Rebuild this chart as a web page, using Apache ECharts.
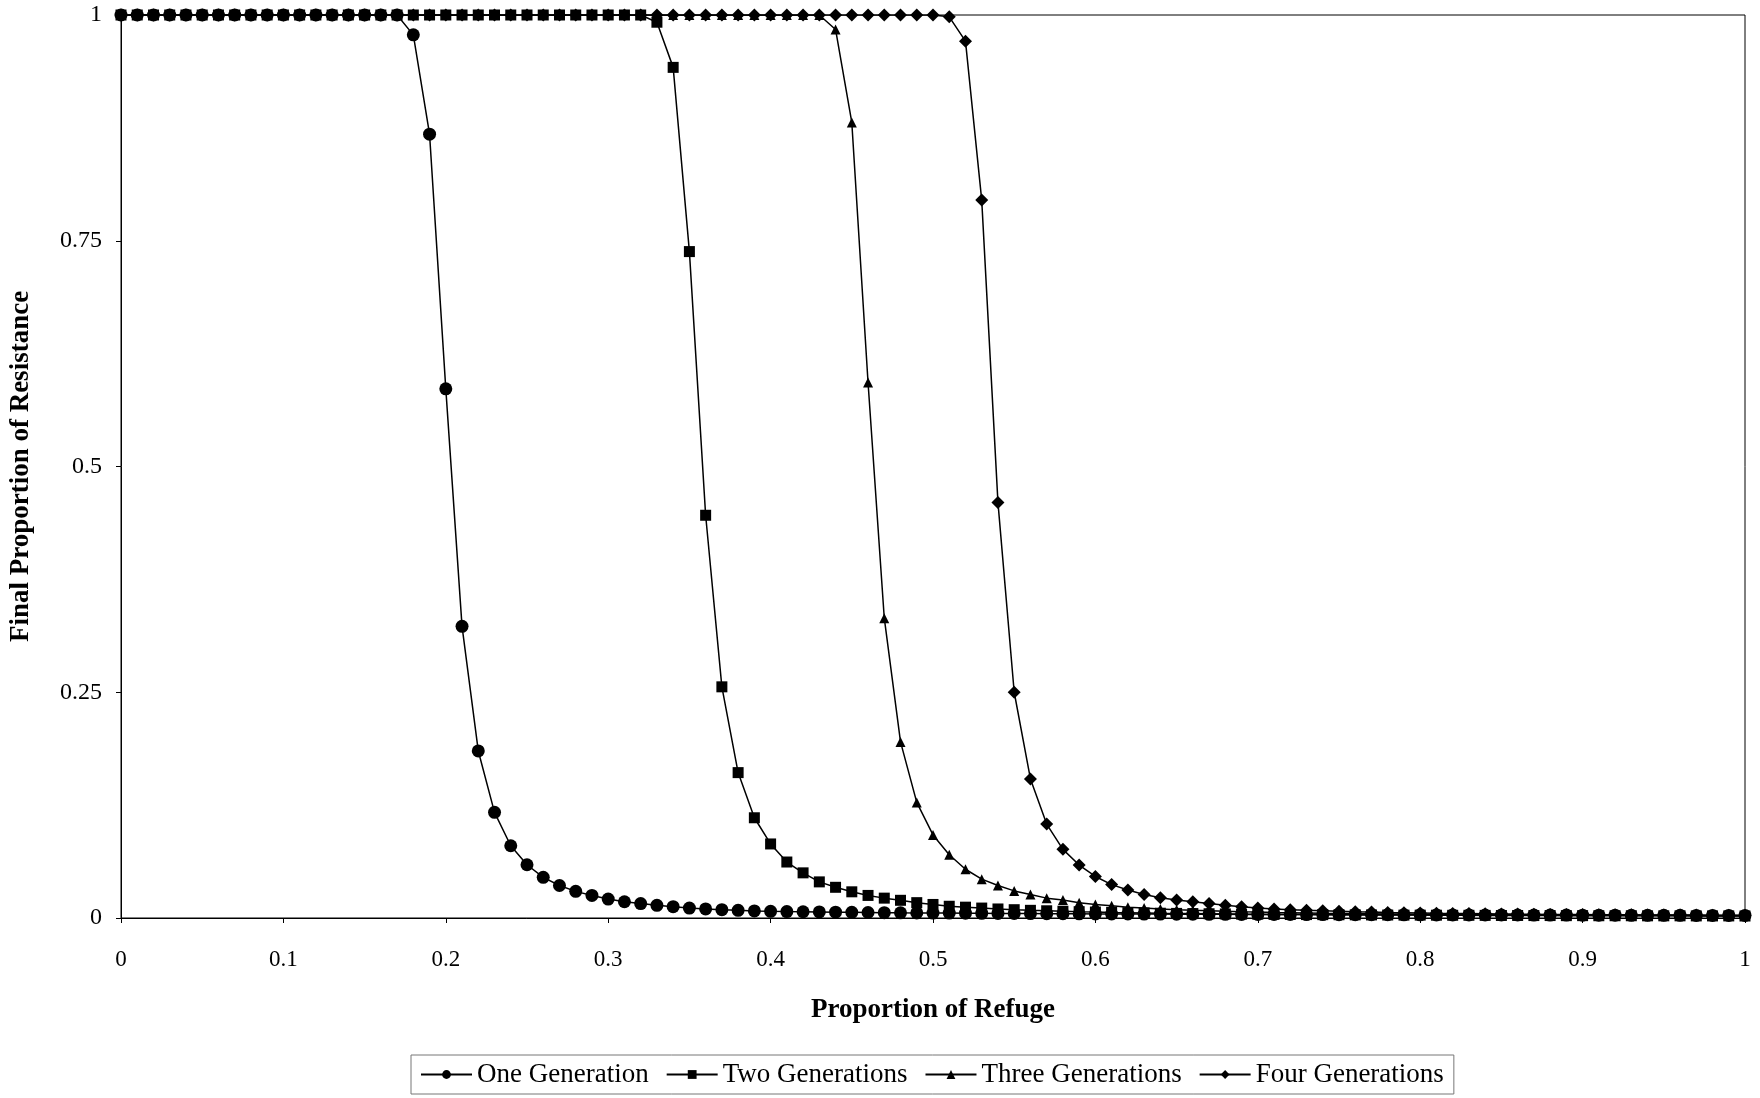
<!DOCTYPE html>
<html>
<head>
<meta charset="utf-8">
<script src="https://cdn.jsdelivr.net/npm/echarts@6/dist/echarts.min.js"></script>
<style>
html,body{margin:0;padding:0;background:#fff;}
#chart{width:1760px;height:1098px;}
</style>
</head>
<body>
<div id="chart"></div>
<script>
// Proportion of refuge (x), 0 to 1 in steps of 0.01
const refuge = [
0.00,0.01,0.02,0.03,0.04,0.05,0.06,0.07,0.08,0.09,
0.10,0.11,0.12,0.13,0.14,0.15,0.16,0.17,0.18,0.19,
0.20,0.21,0.22,0.23,0.24,0.25,0.26,0.27,0.28,0.29,
0.30,0.31,0.32,0.33,0.34,0.35,0.36,0.37,0.38,0.39,
0.40,0.41,0.42,0.43,0.44,0.45,0.46,0.47,0.48,0.49,
0.50,0.51,0.52,0.53,0.54,0.55,0.56,0.57,0.58,0.59,
0.60,0.61,0.62,0.63,0.64,0.65,0.66,0.67,0.68,0.69,
0.70,0.71,0.72,0.73,0.74,0.75,0.76,0.77,0.78,0.79,
0.80,0.81,0.82,0.83,0.84,0.85,0.86,0.87,0.88,0.89,
0.90,0.91,0.92,0.93,0.94,0.95,0.96,0.97,0.98,0.99,
1.00];

const oneGeneration = [
1,1,1,1,1,1,1,1,1,1,
1,1,1,1,1,1,1,1,0.978,0.868,
0.586,0.323,0.185,0.117,0.080,0.059,0.045,0.036,0.0295,0.025,
0.021,0.018,0.016,0.014,0.0125,0.011,0.010,0.0092,0.0085,0.0078,
0.0074,0.0071,0.0069,0.0067,0.0065,0.0063,0.0061,0.0059,0.0057,0.0056,
0.0055,0.0054,0.0053,0.0052,0.0051,0.0050,0.0049,0.0048,0.0047,0.0046,
0.0045,0.0044,0.0044,0.0043,0.0043,0.0042,0.0042,0.0041,0.0041,0.0040,
0.0040,0.0039,0.0039,0.0038,0.0038,0.0037,0.0037,0.0036,0.0036,0.0035,
0.0035,0.0034,0.0034,0.0034,0.0033,0.0033,0.0033,0.0032,0.0032,0.0032,
0.0031,0.0031,0.0031,0.0030,0.0030,0.0030,0.0030,0.0029,0.0029,0.0029,
0.0029];

const twoGenerations = [
1,1,1,1,1,1,1,1,1,1,
1,1,1,1,1,1,1,1,1,1,
1,1,1,1,1,1,1,1,1,1,
1,1,1,0.992,0.942,0.738,0.446,0.256,0.161,0.111,
0.082,0.062,0.050,0.040,0.034,0.029,0.025,0.022,0.0196,0.017,
0.015,0.013,0.012,0.011,0.010,0.0092,0.0085,0.0080,0.0075,0.0070,
0.0066,0.0062,0.0059,0.0056,0.0053,0.0051,0.0049,0.0047,0.0045,0.0043,
0.0042,0.0040,0.0039,0.0038,0.0037,0.0036,0.0035,0.0034,0.0033,0.0032,
0.0032,0.0031,0.0030,0.0030,0.0029,0.0028,0.0028,0.0027,0.0027,0.0026,
0.0026,0.0025,0.0025,0.0025,0.0024,0.0024,0.0024,0.0023,0.0023,0.0023,
0.0022];

const threeGenerations = [
1,1,1,1,1,1,1,1,1,1,
1,1,1,1,1,1,1,1,1,1,
1,1,1,1,1,1,1,1,1,1,
1,1,1,1,1,1,1,1,1,1,
1,1,1,1,0.984,0.881,0.593,0.332,0.195,0.128,
0.092,0.070,0.054,0.043,0.036,0.030,0.026,0.022,0.020,0.017,
0.015,0.0135,0.012,0.011,0.010,0.0092,0.0085,0.0080,0.0075,0.0070,
0.0066,0.0062,0.0059,0.0056,0.0053,0.0051,0.0049,0.0047,0.0045,0.0043,
0.0042,0.0040,0.0039,0.0038,0.0037,0.0036,0.0035,0.0034,0.0033,0.0032,
0.0031,0.0030,0.0030,0.0029,0.0028,0.0028,0.0027,0.0027,0.0026,0.0026,
0.0025];

const fourGenerations = [
1,1,1,1,1,1,1,1,1,1,
1,1,1,1,1,1,1,1,1,1,
1,1,1,1,1,1,1,1,1,1,
1,1,1,1,1,1,1,1,1,1,
1,1,1,1,1,1,1,1,1,1,
1,0.998,0.971,0.795,0.460,0.250,0.154,0.104,0.076,0.0586,
0.046,0.037,0.031,0.026,0.0225,0.020,0.018,0.016,0.014,0.0125,
0.011,0.010,0.0092,0.0085,0.0080,0.0075,0.0070,0.0066,0.0062,0.0059,
0.0056,0.0053,0.0051,0.0049,0.0047,0.0045,0.0043,0.0042,0.0040,0.0039,
0.0038,0.0037,0.0036,0.0035,0.0034,0.0033,0.0032,0.0032,0.0031,0.0030,
0.0030];

const seriesNames = ['One Generation','Two Generations','Three Generations','Four Generations'];
const xTickLabels = ['0','0.1','0.2','0.3','0.4','0.5','0.6','0.7','0.8','0.9','1'];
const yTickLabels = {0:'0',0.25:'0.25',0.5:'0.5',0.75:'0.75',1:'1'};

const FONT = '"Liberation Serif","DejaVu Serif",serif';
const chart = echarts.init(document.getElementById('chart'), null, {renderer:'canvas'});

function pairs(ys){ return refuge.map((x,i)=>[x, ys[i]]); }

const symbolDefs = [
  {symbol:'circle', size:13},
  {symbol:'rect', size:11},
  {symbol:'triangle', size:10},
  {symbol:'diamond', size:13}
];
const allData = [oneGeneration, twoGenerations, threeGenerations, fourGenerations];

const series = allData.map((d,k)=>({
  name: seriesNames[k],
  type: 'line',
  data: pairs(d),
  symbol: symbolDefs[k].symbol,
  symbolSize: symbolDefs[k].size,
  showAllSymbol: true,
  smooth: false,
  lineStyle: {color:'#000', width:1.5},
  itemStyle: {color:'#000', borderColor:'#000', borderWidth:0},
  emphasis: {disabled:true},
  animation: false,
  z: 2 + k
}));

chart.setOption({
  backgroundColor: '#fff',
  animation: false,
  textStyle: {fontFamily: FONT, color:'#000'},
  grid: {
    left: 120, right: 15, top: 15, bottom: 180,
    show: true, borderColor: '#000', borderWidth: 1, backgroundColor: 'transparent',
    containLabel: false
  },
  legend: {
    data: seriesNames,
    left: 411, top: 1055,
    orient: 'horizontal',
    itemWidth: 51, itemHeight: 11,
    itemGap: 17,
    padding: [6, 10, 6, 9],
    borderColor: '#777', borderWidth: 1,
    textStyle: {fontFamily: FONT, fontSize: 27, color:'#000'},
    selectedMode: false
  },
  xAxis: {
    type: 'value', min: 0, max: 1, interval: 0.1,
    name: 'Proportion of Refuge', nameLocation: 'middle', nameGap: 79,
    nameTextStyle: {fontFamily: FONT, fontSize: 27, fontWeight: 'bold', color:'#000'},
    axisLine: {show:true, onZero:false, lineStyle:{color:'#000', width:1}},
    axisTick: {show:true, inside:false, length:5, lineStyle:{color:'#000'}},
    axisLabel: {fontFamily: FONT, fontSize: 23, color:'#000', margin: 30,
      formatter: v => xTickLabels[Math.round(v*10)]},
    splitLine: {show:false}
  },
  yAxis: {
    type: 'value', min: 0, max: 1, interval: 0.25,
    name: 'Final Proportion of Resistance', nameLocation: 'middle', nameGap: 86,
    nameRotate: 90,
    nameTextStyle: {fontFamily: FONT, fontSize: 27, fontWeight: 'bold', color:'#000'},
    axisLine: {show:true, onZero:false, lineStyle:{color:'#000', width:1}},
    axisTick: {show:true, inside:false, length:5, lineStyle:{color:'#000'}},
    axisLabel: {fontFamily: FONT, fontSize: 24, color:'#000', margin: 19,
      formatter: v => yTickLabels[v]},
    splitLine: {show:false}
  },
  series: series
});
</script>
</body>
</html>
